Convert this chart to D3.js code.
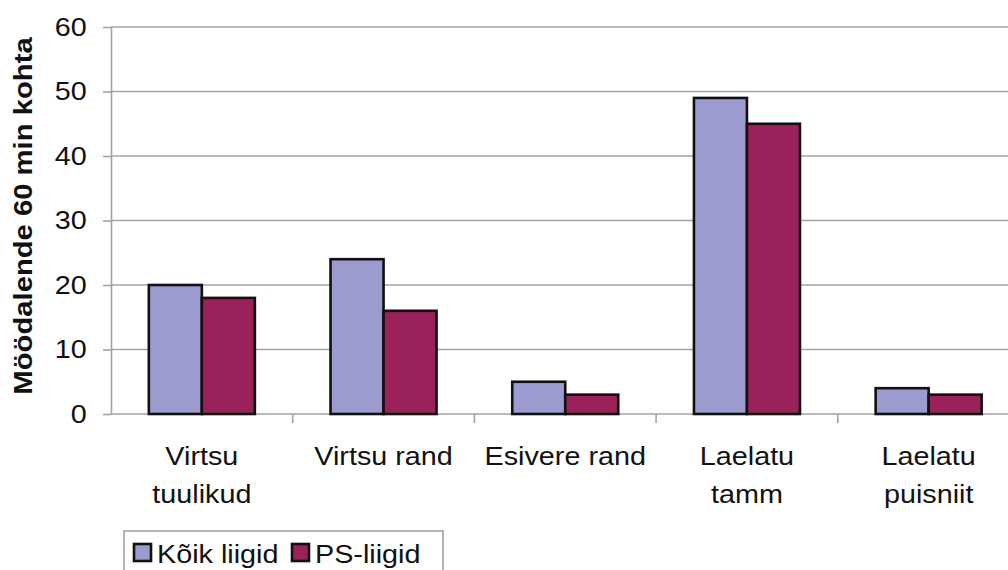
<!DOCTYPE html>
<html>
<head>
<meta charset="utf-8">
<script src="https://cdn.jsdelivr.net/npm/d3@7"></script>
<style>
  body { margin: 0; background: #fff; }
  svg { display: block; font-family: "Liberation Sans", Arial, sans-serif; }
</style>
</head>
<body>
<div id="chart"></div>
<script>
const categories = ['Virtsu tuulikud', 'Virtsu rand', 'Esivere rand', 'Laelatu tamm', 'Laelatu puisniit'];
const categoryLines = [['Virtsu', 'tuulikud'], ['Virtsu rand'], ['Esivere rand'], ['Laelatu', 'tamm'], ['Laelatu', 'puisniit']];
const seriesNames = ['Kõik liigid', 'PS-liigid'];
const koikLiigid = [20, 24, 5, 49, 4];
const psLiigid = [18, 16, 3, 45, 3];
const yTicks = [0, 10, 20, 30, 40, 50, 60];
const yTitle = 'Möödalende 60 min kohta';

const width = 1008, height = 570;
const colors = ['#9b9bd0', '#9a2159'];
const sx = 1.15; // text in the picture is a bit wider than plain Arial
const fontSize = 25;

const svg = d3.select('#chart')
  .append('svg')
  .attr('width', width)
  .attr('height', height);

const y = d3.scaleLinear().domain([0, 60]).range([414, 27]);
const x0 = d3.scaleBand().domain(categories).range([111, 1019.5]).paddingInner(0).paddingOuter(0);
const x1 = d3.scaleBand().domain(seriesNames).range([0, x0.bandwidth()]).paddingInner(0).paddingOuter(0.714);

const rows = categories.map((c, i) => ({ cat: c, values: [koikLiigid[i], psLiigid[i]] }));

// gridlines
svg.append('g')
  .selectAll('line')
  .data(yTicks)
  .enter()
  .append('line')
  .attr('x1', 111).attr('x2', 1019.5)
  .attr('y1', d => y(d)).attr('y2', d => y(d))
  .attr('stroke', '#a3a3a3')
  .attr('stroke-width', 1.6);

// y axis
const yAxis = svg.append('g')
  .attr('transform', 'translate(111,0)')
  .call(d3.axisLeft(y).tickValues(yTicks).tickSize(8).tickPadding(13).tickSizeOuter(0));
yAxis.select('.domain').attr('stroke', '#a3a3a3').attr('stroke-width', 1.6);
yAxis.selectAll('.tick line').attr('stroke', '#a3a3a3').attr('stroke-width', 1.6);
yAxis.selectAll('.tick text')
  .attr('font-size', fontSize)
  .attr('font-family', '"Liberation Sans", Arial, sans-serif')
  .attr('fill', '#111')
  .attr('transform', `scale(${sx},1)`);

// x axis ticks at band edges
const edges = categories.map(c => x0(c)).concat([x0.range()[1]]);
svg.append('g')
  .selectAll('line')
  .data(edges.slice(1))
  .enter()
  .append('line')
  .attr('x1', d => d).attr('x2', d => d)
  .attr('y1', y(0)).attr('y2', y(0) + 9)
  .attr('stroke', '#a3a3a3')
  .attr('stroke-width', 1.6);

// bars
const groups = svg.append('g')
  .selectAll('g')
  .data(rows)
  .enter()
  .append('g')
  .attr('transform', d => `translate(${x0(d.cat)},0)`);

groups.selectAll('rect')
  .data(d => d.values.map((v, i) => ({ key: seriesNames[i], value: v, i })))
  .enter()
  .append('rect')
  .attr('x', d => x1(d.key))
  .attr('width', x1.bandwidth())
  .attr('y', d => y(d.value))
  .attr('height', d => y(0) - y(d.value))
  .attr('fill', d => colors[d.i])
  .attr('stroke', '#111')
  .attr('stroke-width', 2.6);

// category labels
const catLabels = svg.append('g')
  .selectAll('g')
  .data(categories)
  .enter()
  .append('g')
  .attr('transform', d => `translate(${x0(d) + x0.bandwidth() / 2},465) scale(${sx},1)`);

catLabels.each(function (d, i) {
  d3.select(this).selectAll('text')
    .data(categoryLines[i])
    .enter()
    .append('text')
    .attr('text-anchor', 'middle')
    .attr('y', (t, j) => j * 38)
    .attr('font-size', fontSize)
    .attr('fill', '#111')
    .text(t => t);
});

// y title
svg.append('text')
  .attr('transform', `translate(32,216) rotate(-90) scale(${sx + 0.02},1)`)
  .attr('text-anchor', 'middle')
  .attr('font-size', fontSize)
  .attr('font-weight', 'bold')
  .attr('fill', '#111')
  .text(yTitle);

// legend
const legend = svg.append('g');
legend.append('rect')
  .attr('x', 124).attr('y', 531)
  .attr('width', 319).attr('height', 60)
  .attr('fill', 'none')
  .attr('stroke', '#a3a3a3')
  .attr('stroke-width', 1.6);

const legendX = [134, 292];
const items = legend.selectAll('.legend')
  .data(seriesNames)
  .enter()
  .append('g')
  .attr('class', 'legend')
  .attr('transform', (d, i) => `translate(${legendX[i]},544)`);

items.append('rect')
  .attr('width', 17).attr('height', 17)
  .attr('fill', (d, i) => colors[i])
  .attr('stroke', '#111')
  .attr('stroke-width', 2.6);

items.append('text')
  .attr('transform', `translate(23,19) scale(${sx},1)`)
  .attr('font-size', fontSize)
  .attr('fill', '#111')
  .text(d => d);
</script>
</body>
</html>
